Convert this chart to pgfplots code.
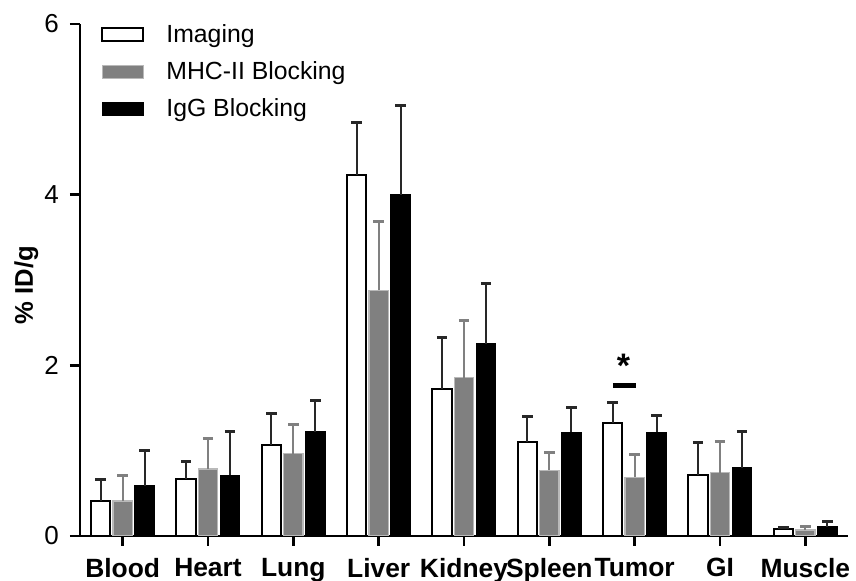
\documentclass[border=0pt]{standalone}
\usepackage{fontspec}
\setmainfont{Liberation Sans}
\usepackage{pgfplots}
\usepackage{pgfplotstable}
\pgfplotsset{compat=1.18}
\pgfplotstableread{
x  w     we     g      ge     b      be
0  0.41  0.25   0.41   0.30   0.59   0.41
1  0.67  0.20   0.785  0.355  0.71   0.51
2  1.07  0.36   0.965  0.345  1.22   0.37
3  4.23  0.61   2.88   0.80   4.00   1.04
4  1.72  0.61   1.855  0.665  2.25   0.71
5  1.10  0.30   0.77   0.21   1.215  0.285
6  1.32  0.24   0.69   0.26   1.215  0.195
7  0.71  0.39   0.74   0.365  0.80   0.42
8  0.08  0.025  0.07   0.04   0.11   0.06
}\data
\definecolor{bargray}{RGB}{128,128,128}
\definecolor{errdark}{RGB}{40,40,40}
\begin{document}
\begin{tikzpicture}
\begin{axis}[
  scale only axis, width=384pt, height=256pt,
  xmin=-0.5, xmax=8.5, ymin=0, ymax=6,
  ybar=1.25pt, bar width=9.75pt,
  axis lines=left, axis line style={-, line width=1.2pt},
  xtick={0,...,8},
  xticklabels={Blood,Heart,Lung,Liver,Kidney,Spleen,Tumor,GI,Muscle},
  ytick={0,2,4,6},
  tick align=outside, major tick length=5pt,
  tick style={line width=1.2pt, black},
  /pgf/number format/assume math mode=true,
  yticklabel style={font=\fontsize{13}{14}\selectfont, xshift=-2pt},
  xticklabel style={font=\bfseries\fontsize{13.2}{14}\selectfont, yshift=-2.5pt},
  ylabel={\% ID/g},
  ylabel style={font=\bfseries\fontsize{12.8}{14}\selectfont, at={(axis description cs:-0.07,0.49)}, anchor=center},
  legend style={draw=none, fill=none, at={(0,1)}, anchor=north west, xshift=10.5pt, yshift=2pt,
    font=\fontsize{12.4}{14}\selectfont, row sep=4pt, inner sep=0pt,
    nodes={inner xsep=2pt}},
  legend cell align=left,
  legend image code/.code={\draw[#1] (0pt,-3.25pt) rectangle (20.5pt,3.25pt); \path (29.5pt,0pt);},
]
\addplot[fill=white, draw=black, line width=1pt,
  error bars/.cd, y dir=plus, y explicit,
  error bar style={line width=1.1pt, errdark},
  error mark options={rotate=90, mark size=2.6pt, line width=1.5pt, errdark}]
  table[x=x, y=w, y error=we] {\data};
\addplot[fill=bargray, draw=gray!55, line width=0.6pt,
  error bars/.cd, y dir=plus, y explicit,
  error bar style={line width=1.1pt, bargray},
  error mark options={rotate=90, mark size=2.6pt, line width=1.5pt, bargray}]
  table[x=x, y=g, y error=ge] {\data};
\addplot[fill=black, draw=black, line width=0.6pt,
  error bars/.cd, y dir=plus, y explicit,
  error bar style={line width=1.1pt, errdark},
  error mark options={rotate=90, mark size=2.6pt, line width=1.5pt, errdark}]
  table[x=x, y=b, y error=be] {\data};
\legend{Imaging, MHC-II Blocking, IgG Blocking}
\draw[line width=2.4pt] (axis cs:5.745,1.764) -- (axis cs:6.015,1.764);
\node[font=\bfseries\fontsize{17}{17}\selectfont, inner sep=0pt] at (axis cs:5.87,1.99) {*};
\end{axis}
\pgfresetboundingbox
\path ([shift={(-40pt,-22.5pt)}]current axis.south west) rectangle ([shift={(4pt,12pt)}]current axis.north east);
\end{tikzpicture}
\end{document}
